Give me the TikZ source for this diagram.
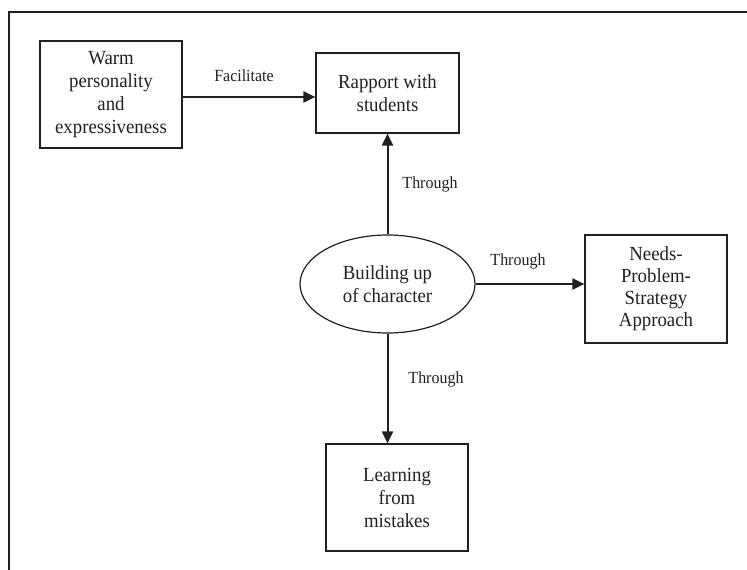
\documentclass[tikz,border=0pt]{standalone}
\usepackage{fontspec}
\setmainfont{Liberation Serif}[FakeStretch=0.94]
\usetikzlibrary{arrows.meta,shapes.geometric}
\definecolor{ink}{HTML}{231F20}
\tikzset{
  box/.style={draw=ink, line width=1.2pt, rectangle, align=center, inner sep=0pt,
    text=ink, font=\fontsize{20}{23}\selectfont},
  oval/.style={draw=ink, line width=1.2pt, ellipse, align=center, inner sep=0pt,
    text=ink, font=\fontsize{20}{23}\selectfont,
    minimum width=175pt, minimum height=98pt},
  lab/.style={text=ink, font=\fontsize{17}{19}\selectfont, inner sep=0pt},
  arr/.style={draw=ink, line width=2pt, -{Triangle[length=12pt,width=11pt]}},
  frameline/.style={draw=ink, line width=2pt}
}
\begin{document}
\begin{tikzpicture}[x=1pt, y=-1pt]
  \useasboundingbox (0,0) rectangle (747,570);
  % open frame: top and left edges
  \coordinate (fl) at (8.5,570);
  \coordinate (fc) at (8.5,12);
  \coordinate (fr) at (747,12);
  \draw[frameline] (fl) -- (fc) -- (fr);

  \node[box, minimum width=142pt, minimum height=107pt] (warm) at (111,94.5)
    {Warm\\personality\\and\\expressiveness};
  \node[box, minimum width=143pt, minimum height=80pt] (rap) at (387.5,93)
    {Rapport with\\students};
  \node[oval] (ell) at (387.5,284) {Building up\\of character};
  \node[box, minimum width=142pt, minimum height=108pt, font=\fontsize{20}{22}\selectfont]
    (need) at (656,289) {Needs-\\Problem-\\Strategy\\Approach};
  \node[box, minimum width=142pt, minimum height=107pt] (lrn) at (397,497.5)
    {Learning\\from\\mistakes};

  \draw[arr] ([yshift=-2.5pt]warm.east) -- ([yshift=-2.5pt]warm.east -| rap.west);
  \draw[arr] (ell.north) -- (ell.north |- rap.south);
  \draw[arr] (ell.east) -- (ell.east -| need.west);
  \draw[arr] (ell.south) -- (ell.south |- lrn.north);

  \node[lab] (lfac) at (244,76) {Facilitate};
  \node[lab] (lup) at (430,184) {Through};
  \node[lab] (lright) at (518,261) {Through};
  \node[lab] (ldown) at (436,379) {Through};
\end{tikzpicture}
\end{document}
